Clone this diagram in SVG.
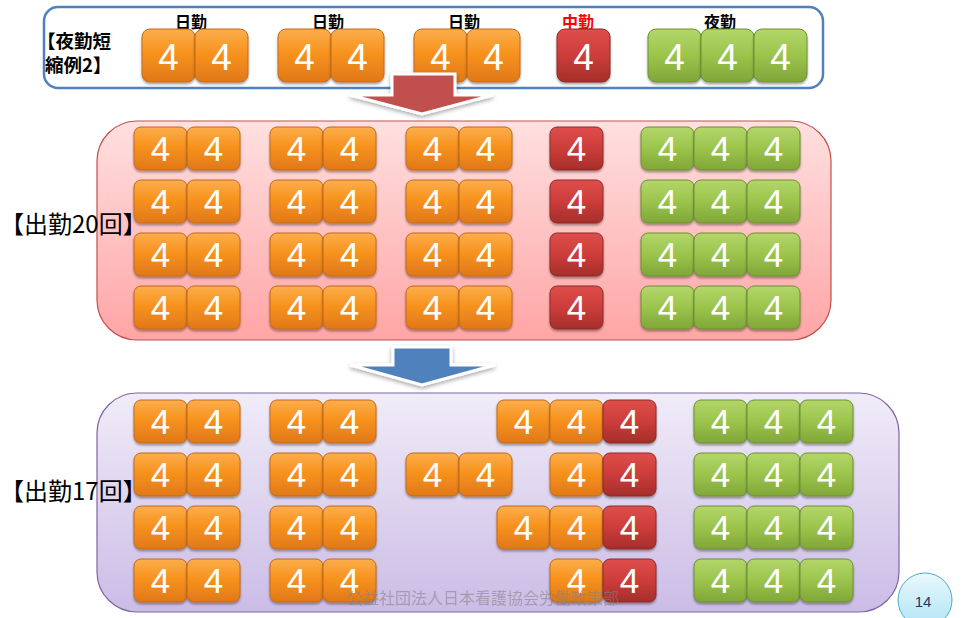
<svg xmlns="http://www.w3.org/2000/svg" width="963" height="618" viewBox="0 0 963 618">
<defs>
<linearGradient id="gO" x1="0" y1="0" x2="0" y2="1"><stop offset="0" stop-color="#fcae4c"/><stop offset="0.45" stop-color="#f7931e"/><stop offset="1" stop-color="#e07818"/></linearGradient>
<linearGradient id="gR" x1="0" y1="0" x2="0" y2="1"><stop offset="0" stop-color="#de4e4a"/><stop offset="0.5" stop-color="#cc3d3a"/><stop offset="1" stop-color="#a52e2b"/></linearGradient>
<linearGradient id="gG" x1="0" y1="0" x2="0" y2="1"><stop offset="0" stop-color="#b3d66a"/><stop offset="0.5" stop-color="#9bc44c"/><stop offset="1" stop-color="#80a638"/></linearGradient>
<linearGradient id="gPink" x1="0" y1="0" x2="0" y2="1"><stop offset="0" stop-color="#ffe0e0"/><stop offset="1" stop-color="#ffa5a5"/></linearGradient>
<linearGradient id="gPurp" x1="0" y1="0" x2="0" y2="1"><stop offset="0" stop-color="#f0ecf8"/><stop offset="1" stop-color="#cbbce6"/></linearGradient>
<linearGradient id="gCyan" x1="0" y1="0" x2="0" y2="1"><stop offset="0" stop-color="#e9f8fd"/><stop offset="1" stop-color="#b0e4f6"/></linearGradient>
<filter id="sh" x="-20%" y="-20%" width="140%" height="150%"><feDropShadow dx="0" dy="2" stdDeviation="1.2" flood-color="#000" flood-opacity="0.35"/></filter>
<filter id="ash" x="-20%" y="-30%" width="140%" height="170%"><feDropShadow dx="0" dy="2" stdDeviation="2" flood-color="#000" flood-opacity="0.35"/></filter>
</defs>
<style>
.o{fill:url(#gO);stroke:#c4681c;stroke-width:1;filter:url(#sh)}
.r{fill:url(#gR);stroke:#8e2b28;stroke-width:1;filter:url(#sh)}
.g{fill:url(#gG);stroke:#6e8f32;stroke-width:1;filter:url(#sh)}
.n{font-family:"Liberation Sans",Arial,sans-serif;font-size:35px;fill:#fff;text-anchor:middle}
.nt{font-size:37px}
.lb{font-family:"Noto Sans CJK JP",sans-serif;font-weight:bold;font-size:16px;fill:#000;text-anchor:middle}
.big{font-family:"Noto Sans CJK JP",sans-serif;font-size:24px;fill:#000}
.tl{font-family:"Noto Sans CJK JP",sans-serif;font-size:18.5px;font-weight:bold;fill:#000}
</style>
<rect width="963" height="618" fill="#fff"/>

<g id="top-box">
<rect x="44" y="7" width="779" height="81" rx="14" fill="#fff" stroke="#4f81bd" stroke-width="2.5"/>
<text class="tl" x="37" y="48">【夜勤短</text>
<text class="tl" x="45" y="72">縮例2】</text>
<text class="lb" x="191" y="28">日勤</text>
<text class="lb" x="328" y="28">日勤</text>
<text class="lb" x="464" y="28">日勤</text>
<text class="lb" x="578" y="28" style="fill:#ff0000">中勤</text>
<text class="lb" x="720" y="28">夜勤</text>
</g>
<g id="top-tiles">
<g id="t1"><rect class="o" x="142" y="29" width="53" height="53" rx="8"/><text class="n nt" x="168.5" y="70">4</text></g>
<g id="t2"><rect class="o" x="195" y="29" width="53" height="53" rx="8"/><text class="n nt" x="221.5" y="70">4</text></g>
<g id="t3"><rect class="o" x="278" y="29" width="53" height="53" rx="8"/><text class="n nt" x="304.5" y="70">4</text></g>
<g id="t4"><rect class="o" x="331" y="29" width="53" height="53" rx="8"/><text class="n nt" x="357.5" y="70">4</text></g>
<g id="t5"><rect class="o" x="414" y="29" width="53" height="53" rx="8"/><text class="n nt" x="440.5" y="70">4</text></g>
<g id="t6"><rect class="o" x="467" y="29" width="53" height="53" rx="8"/><text class="n nt" x="493.5" y="70">4</text></g>
<g id="t7"><rect class="r" x="557" y="29" width="53" height="53" rx="8"/><text class="n nt" x="583.5" y="70">4</text></g>
<g id="t8"><rect class="g" x="648" y="29" width="53" height="53" rx="8"/><text class="n nt" x="674.5" y="70">4</text></g>
<g id="t9"><rect class="g" x="701" y="29" width="53" height="53" rx="8"/><text class="n nt" x="727.5" y="70">4</text></g>
<g id="t10"><rect class="g" x="754" y="29" width="53" height="53" rx="8"/><text class="n nt" x="780.5" y="70">4</text></g>
</g>

<g id="pink-box">
<rect x="97" y="121" width="734" height="219" rx="40" fill="url(#gPink)" stroke="#c0504d" stroke-width="1.2"/>
<text class="big" x="0" y="233">【出勤20回】</text>
</g>
<g id="pink-tiles">
<g id="p1-1"><rect class="o" x="134" y="127" width="53" height="43" rx="7"/><text class="n" x="160.5" y="161">4</text></g>
<g id="p1-2"><rect class="o" x="187" y="127" width="53" height="43" rx="7"/><text class="n" x="213.5" y="161">4</text></g>
<g id="p1-3"><rect class="o" x="270" y="127" width="53" height="43" rx="7"/><text class="n" x="296.5" y="161">4</text></g>
<g id="p1-4"><rect class="o" x="323" y="127" width="53" height="43" rx="7"/><text class="n" x="349.5" y="161">4</text></g>
<g id="p1-5"><rect class="o" x="406" y="127" width="53" height="43" rx="7"/><text class="n" x="432.5" y="161">4</text></g>
<g id="p1-6"><rect class="o" x="459" y="127" width="53" height="43" rx="7"/><text class="n" x="485.5" y="161">4</text></g>
<g id="p1-7"><rect class="r" x="550" y="127" width="53" height="43" rx="7"/><text class="n" x="576.5" y="161">4</text></g>
<g id="p1-8"><rect class="g" x="641" y="127" width="53" height="43" rx="7"/><text class="n" x="667.5" y="161">4</text></g>
<g id="p1-9"><rect class="g" x="694" y="127" width="53" height="43" rx="7"/><text class="n" x="720.5" y="161">4</text></g>
<g id="p1-10"><rect class="g" x="747" y="127" width="53" height="43" rx="7"/><text class="n" x="773.5" y="161">4</text></g>

<g id="p2-1"><rect class="o" x="134" y="180" width="53" height="43" rx="7"/><text class="n" x="160.5" y="214">4</text></g>
<g id="p2-2"><rect class="o" x="187" y="180" width="53" height="43" rx="7"/><text class="n" x="213.5" y="214">4</text></g>
<g id="p2-3"><rect class="o" x="270" y="180" width="53" height="43" rx="7"/><text class="n" x="296.5" y="214">4</text></g>
<g id="p2-4"><rect class="o" x="323" y="180" width="53" height="43" rx="7"/><text class="n" x="349.5" y="214">4</text></g>
<g id="p2-5"><rect class="o" x="406" y="180" width="53" height="43" rx="7"/><text class="n" x="432.5" y="214">4</text></g>
<g id="p2-6"><rect class="o" x="459" y="180" width="53" height="43" rx="7"/><text class="n" x="485.5" y="214">4</text></g>
<g id="p2-7"><rect class="r" x="550" y="180" width="53" height="43" rx="7"/><text class="n" x="576.5" y="214">4</text></g>
<g id="p2-8"><rect class="g" x="641" y="180" width="53" height="43" rx="7"/><text class="n" x="667.5" y="214">4</text></g>
<g id="p2-9"><rect class="g" x="694" y="180" width="53" height="43" rx="7"/><text class="n" x="720.5" y="214">4</text></g>
<g id="p2-10"><rect class="g" x="747" y="180" width="53" height="43" rx="7"/><text class="n" x="773.5" y="214">4</text></g>

<g id="p3-1"><rect class="o" x="134" y="233" width="53" height="43" rx="7"/><text class="n" x="160.5" y="267">4</text></g>
<g id="p3-2"><rect class="o" x="187" y="233" width="53" height="43" rx="7"/><text class="n" x="213.5" y="267">4</text></g>
<g id="p3-3"><rect class="o" x="270" y="233" width="53" height="43" rx="7"/><text class="n" x="296.5" y="267">4</text></g>
<g id="p3-4"><rect class="o" x="323" y="233" width="53" height="43" rx="7"/><text class="n" x="349.5" y="267">4</text></g>
<g id="p3-5"><rect class="o" x="406" y="233" width="53" height="43" rx="7"/><text class="n" x="432.5" y="267">4</text></g>
<g id="p3-6"><rect class="o" x="459" y="233" width="53" height="43" rx="7"/><text class="n" x="485.5" y="267">4</text></g>
<g id="p3-7"><rect class="r" x="550" y="233" width="53" height="43" rx="7"/><text class="n" x="576.5" y="267">4</text></g>
<g id="p3-8"><rect class="g" x="641" y="233" width="53" height="43" rx="7"/><text class="n" x="667.5" y="267">4</text></g>
<g id="p3-9"><rect class="g" x="694" y="233" width="53" height="43" rx="7"/><text class="n" x="720.5" y="267">4</text></g>
<g id="p3-10"><rect class="g" x="747" y="233" width="53" height="43" rx="7"/><text class="n" x="773.5" y="267">4</text></g>

<g id="p4-1"><rect class="o" x="134" y="286" width="53" height="43" rx="7"/><text class="n" x="160.5" y="320">4</text></g>
<g id="p4-2"><rect class="o" x="187" y="286" width="53" height="43" rx="7"/><text class="n" x="213.5" y="320">4</text></g>
<g id="p4-3"><rect class="o" x="270" y="286" width="53" height="43" rx="7"/><text class="n" x="296.5" y="320">4</text></g>
<g id="p4-4"><rect class="o" x="323" y="286" width="53" height="43" rx="7"/><text class="n" x="349.5" y="320">4</text></g>
<g id="p4-5"><rect class="o" x="406" y="286" width="53" height="43" rx="7"/><text class="n" x="432.5" y="320">4</text></g>
<g id="p4-6"><rect class="o" x="459" y="286" width="53" height="43" rx="7"/><text class="n" x="485.5" y="320">4</text></g>
<g id="p4-7"><rect class="r" x="550" y="286" width="53" height="43" rx="7"/><text class="n" x="576.5" y="320">4</text></g>
<g id="p4-8"><rect class="g" x="641" y="286" width="53" height="43" rx="7"/><text class="n" x="667.5" y="320">4</text></g>
<g id="p4-9"><rect class="g" x="694" y="286" width="53" height="43" rx="7"/><text class="n" x="720.5" y="320">4</text></g>
<g id="p4-10"><rect class="g" x="747" y="286" width="53" height="43" rx="7"/><text class="n" x="773.5" y="320">4</text></g>
</g>

<g id="purple-box">
<rect x="97" y="393" width="802" height="219" rx="40" fill="url(#gPurp)" stroke="#8064a2" stroke-width="1.2"/>
<text class="big" x="0" y="500">【出勤17回】</text>
</g>
<g id="purple-tiles">
<g id="q1-1"><rect class="o" x="134" y="400" width="53" height="43" rx="7"/><text class="n" x="160.5" y="434">4</text></g>
<g id="q1-2"><rect class="o" x="187" y="400" width="53" height="43" rx="7"/><text class="n" x="213.5" y="434">4</text></g>
<g id="q1-3"><rect class="o" x="270" y="400" width="53" height="43" rx="7"/><text class="n" x="296.5" y="434">4</text></g>
<g id="q1-4"><rect class="o" x="323" y="400" width="53" height="43" rx="7"/><text class="n" x="349.5" y="434">4</text></g>
<g id="q1-5"><rect class="o" x="497" y="400" width="53" height="43" rx="7"/><text class="n" x="523.5" y="434">4</text></g>
<g id="q1-6"><rect class="o" x="550" y="400" width="53" height="43" rx="7"/><text class="n" x="576.5" y="434">4</text></g>
<g id="q1-7"><rect class="r" x="603" y="400" width="53" height="43" rx="7"/><text class="n" x="629.5" y="434">4</text></g>
<g id="q1-8"><rect class="g" x="694" y="400" width="53" height="43" rx="7"/><text class="n" x="720.5" y="434">4</text></g>
<g id="q1-9"><rect class="g" x="747" y="400" width="53" height="43" rx="7"/><text class="n" x="773.5" y="434">4</text></g>
<g id="q1-10"><rect class="g" x="800" y="400" width="53" height="43" rx="7"/><text class="n" x="826.5" y="434">4</text></g>

<g id="q2-1"><rect class="o" x="134" y="453" width="53" height="43" rx="7"/><text class="n" x="160.5" y="487">4</text></g>
<g id="q2-2"><rect class="o" x="187" y="453" width="53" height="43" rx="7"/><text class="n" x="213.5" y="487">4</text></g>
<g id="q2-3"><rect class="o" x="270" y="453" width="53" height="43" rx="7"/><text class="n" x="296.5" y="487">4</text></g>
<g id="q2-4"><rect class="o" x="323" y="453" width="53" height="43" rx="7"/><text class="n" x="349.5" y="487">4</text></g>
<g id="q2-5"><rect class="o" x="406" y="453" width="53" height="43" rx="7"/><text class="n" x="432.5" y="487">4</text></g>
<g id="q2-6"><rect class="o" x="459" y="453" width="53" height="43" rx="7"/><text class="n" x="485.5" y="487">4</text></g>
<g id="q2-7"><rect class="o" x="550" y="453" width="53" height="43" rx="7"/><text class="n" x="576.5" y="487">4</text></g>
<g id="q2-8"><rect class="r" x="603" y="453" width="53" height="43" rx="7"/><text class="n" x="629.5" y="487">4</text></g>
<g id="q2-9"><rect class="g" x="694" y="453" width="53" height="43" rx="7"/><text class="n" x="720.5" y="487">4</text></g>
<g id="q2-10"><rect class="g" x="747" y="453" width="53" height="43" rx="7"/><text class="n" x="773.5" y="487">4</text></g>
<g id="q2-11"><rect class="g" x="800" y="453" width="53" height="43" rx="7"/><text class="n" x="826.5" y="487">4</text></g>

<g id="q3-1"><rect class="o" x="134" y="506" width="53" height="43" rx="7"/><text class="n" x="160.5" y="540">4</text></g>
<g id="q3-2"><rect class="o" x="187" y="506" width="53" height="43" rx="7"/><text class="n" x="213.5" y="540">4</text></g>
<g id="q3-3"><rect class="o" x="270" y="506" width="53" height="43" rx="7"/><text class="n" x="296.5" y="540">4</text></g>
<g id="q3-4"><rect class="o" x="323" y="506" width="53" height="43" rx="7"/><text class="n" x="349.5" y="540">4</text></g>
<g id="q3-5"><rect class="o" x="497" y="506" width="53" height="43" rx="7"/><text class="n" x="523.5" y="540">4</text></g>
<g id="q3-6"><rect class="o" x="550" y="506" width="53" height="43" rx="7"/><text class="n" x="576.5" y="540">4</text></g>
<g id="q3-7"><rect class="r" x="603" y="506" width="53" height="43" rx="7"/><text class="n" x="629.5" y="540">4</text></g>
<g id="q3-8"><rect class="g" x="694" y="506" width="53" height="43" rx="7"/><text class="n" x="720.5" y="540">4</text></g>
<g id="q3-9"><rect class="g" x="747" y="506" width="53" height="43" rx="7"/><text class="n" x="773.5" y="540">4</text></g>
<g id="q3-10"><rect class="g" x="800" y="506" width="53" height="43" rx="7"/><text class="n" x="826.5" y="540">4</text></g>

<g id="q4-1"><rect class="o" x="134" y="559" width="53" height="43" rx="7"/><text class="n" x="160.5" y="593">4</text></g>
<g id="q4-2"><rect class="o" x="187" y="559" width="53" height="43" rx="7"/><text class="n" x="213.5" y="593">4</text></g>
<g id="q4-3"><rect class="o" x="270" y="559" width="53" height="43" rx="7"/><text class="n" x="296.5" y="593">4</text></g>
<g id="q4-4"><rect class="o" x="323" y="559" width="53" height="43" rx="7"/><text class="n" x="349.5" y="593">4</text></g>
<g id="q4-5"><rect class="o" x="550" y="559" width="53" height="43" rx="7"/><text class="n" x="576.5" y="593">4</text></g>
<g id="q4-6"><rect class="r" x="603" y="559" width="53" height="43" rx="7"/><text class="n" x="629.5" y="593">4</text></g>
<g id="q4-7"><rect class="g" x="694" y="559" width="53" height="43" rx="7"/><text class="n" x="720.5" y="593">4</text></g>
<g id="q4-8"><rect class="g" x="747" y="559" width="53" height="43" rx="7"/><text class="n" x="773.5" y="593">4</text></g>
<g id="q4-9"><rect class="g" x="800" y="559" width="53" height="43" rx="7"/><text class="n" x="826.5" y="593">4</text></g>
</g>

<g id="connectors">
<polygon points="392,74 455,74 455,95 493,95 422,114 350,95 392,95" fill="#c0504d" stroke="#fff" stroke-width="3" stroke-linejoin="miter" filter="url(#ash)"/>
<polygon points="393,347 451,347 451,365 495,365 422,385 350,365 393,365" fill="#4f81bd" stroke="#fff" stroke-width="3" stroke-linejoin="miter" filter="url(#ash)"/>
</g>

<g id="footer">
<text x="483" y="604" text-anchor="middle" style="font-family:'Noto Sans CJK JP',sans-serif;font-size:16px;fill:#808080;opacity:0.55">公益社団法人日本看護協会労働政策部</text>
</g>
<g id="page-number">
<ellipse cx="925" cy="600" rx="27" ry="27" fill="url(#gCyan)" stroke="#4bacc6" stroke-width="1"/>
<text x="923" y="607" text-anchor="middle" style="font-family:'Liberation Sans',Arial,sans-serif;font-size:15px;fill:#1f3864">14</text>
</g>
</svg>
